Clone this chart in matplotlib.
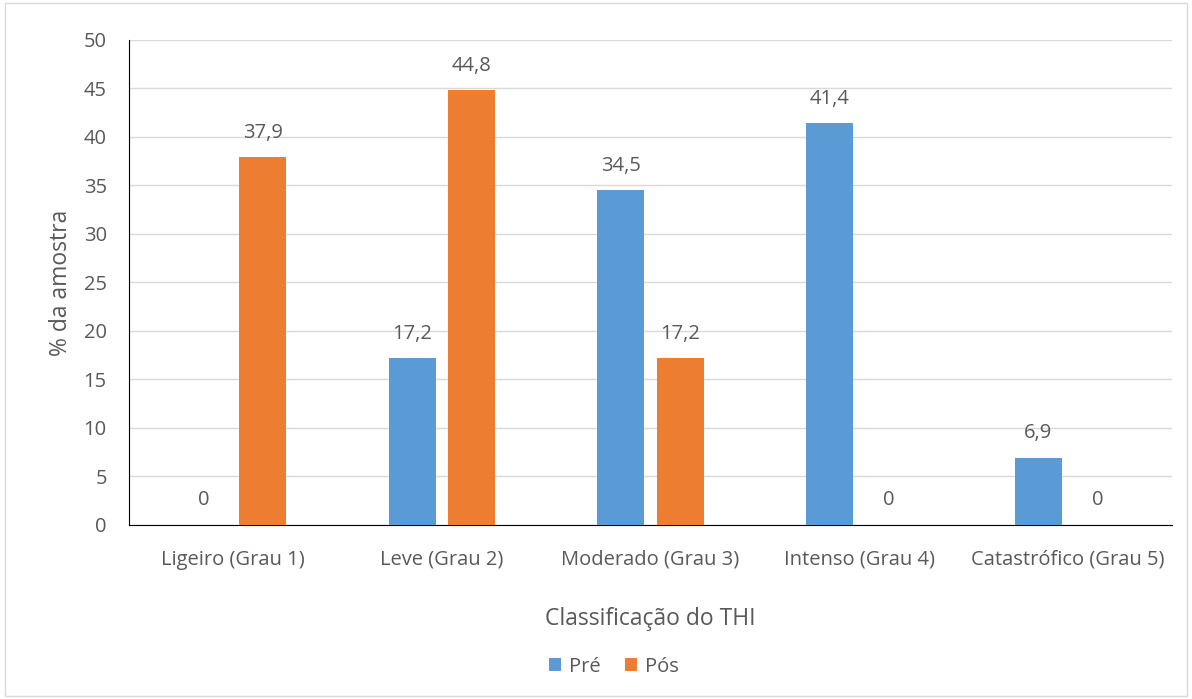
import numpy as np
import matplotlib.pyplot as plt
from matplotlib.patches import Rectangle

# Data
categories = ["Ligeiro (Grau 1)", "Leve (Grau 2)", "Moderado (Grau 3)",
              "Intenso (Grau 4)", "Catastrófico (Grau 5)"]
pre = [0, 17.2, 34.5, 41.4, 6.9]
pos = [37.9, 44.8, 17.2, 0, 0]

plt.rcParams["font.family"] = ["Open Sans", "DejaVu Sans"]
grey = "#595959"

fig = plt.figure(figsize=(11.92, 6.99), dpi=100)
ax = fig.add_axes([0.1082, 0.249, 0.875, 0.694])

x = np.arange(len(categories))
w = 0.225
off = 0.142
b1 = ax.bar(x - off, pre, w, color="#5B9BD5", label="Pré", zorder=3)
b2 = ax.bar(x + off, pos, w, color="#ED7D31", label="Pós", zorder=3)

for bars in (b1, b2):
    for b in bars:
        h = b.get_height()
        ax.text(b.get_x() + b.get_width() / 2, h + 1.5, f"{h:g}".replace(".", ","),
                ha="center", va="bottom", fontsize=14.5, color=grey)

ax.set_xlim(-0.5, len(categories) - 0.5)
ax.set_ylim(0, 50)
ax.set_yticks(range(0, 51, 5))
ax.set_xticks(x)
ax.set_xticklabels(categories)
ax.tick_params(axis="both", length=0, labelsize=14.5, labelcolor=grey)
ax.tick_params(axis="x", pad=18)
ax.tick_params(axis="y", pad=16)
ax.grid(axis="y", color="#D9D9D9", linewidth=1, zorder=0)
for s in ("top", "right"):
    ax.spines[s].set_visible(False)
ax.spines["left"].set_color("black")
ax.spines["bottom"].set_color("black")

ax.set_ylabel("% da amostra", fontsize=16.5, color=grey, labelpad=8)
ax.set_xlabel("Classificação do THI", fontsize=16.5, color=grey, labelpad=27)

fig.legend(handles=[b1, b2], loc="lower center", bbox_to_anchor=(0.515, 0.006),
           ncol=2, frameon=False, fontsize=14.5, labelcolor=grey,
           handlelength=0.6, handleheight=0.6, handletextpad=0.4, columnspacing=1.2)

fig.patches.append(Rectangle((0.004, 0.004), 0.992, 0.992, transform=fig.transFigure,
                             fill=False, edgecolor="#D9D9D9", linewidth=1))

fig.savefig("out.png", dpi=100)
